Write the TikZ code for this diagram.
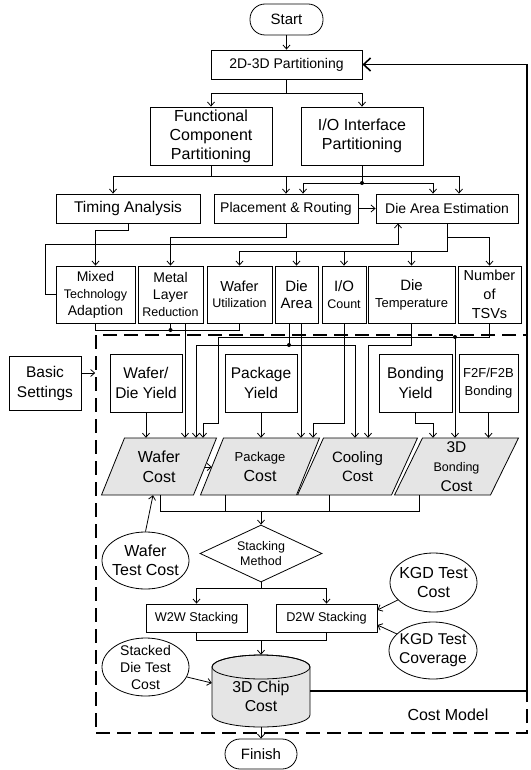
\documentclass[tikz,border=0pt]{standalone}
\usepackage{fontspec}
\setmainfont{Liberation Sans}
\usetikzlibrary{arrows.meta,shapes.geometric,calc}
\definecolor{cgray}{RGB}{229,229,229}
\newcommand{\fsz}[2]{\fontsize{#1}{#2}\selectfont}
\begin{document}
\begin{tikzpicture}[x=1pt,y=-1pt,
  font=\fsz{14}{17},
  every node/.style={inner sep=0pt, align=center},
  ln/.style={line width=0.8pt},
  arr/.style={line width=0.8pt, -{Straight Barb[length=4pt,width=7pt]}},
  fb/.style={line width=1.6pt, -{Straight Barb[length=7pt,width=13pt]}},
  box/.style={draw, line width=0.8pt, rectangle},
  term/.style={draw, line width=0.8pt, rectangle, rounded corners=15pt, font=\fsz{15}{18}},
  ell/.style={draw, line width=0.8pt, ellipse, inner sep=-14pt},
  ptxt/.style={rectangle, minimum height=57},
  para/.style={fill=cgray, draw, line width=0.8pt},
  dashbox/.style={draw, line width=1.6pt, dash pattern=on 14pt off 7pt, rectangle}]
\useasboundingbox (0,0) rectangle (530,770);

% cost model frame
\node[dashbox, minimum width=431, minimum height=398] (cm) at (311.5,534) {};

% top flow
\node[term, minimum width=73, minimum height=31] (start) at (286.5,19.5) {Start};
\node[box, minimum width=151, minimum height=29, font=\fsz{14}{17}] (part) at (286.5,64.5) {2D-3D Partitioning};
\node[box, minimum width=122, minimum height=58, font=\fsz{16}{19}] (func) at (211,136) {Functional\\Component\\Partitioning};
\node[box, minimum width=122, minimum height=58, font=\fsz{16}{19}] (io) at (362,136) {I/O Interface\\Partitioning};
\node[box, minimum width=144, minimum height=29, font=\fsz{15.5}{18}] (timing) at (128,208.5) {Timing Analysis};
\node[box, minimum width=144, minimum height=29, font=\fsz{14}{17}] (place) at (286,208.5) {Placement \& Routing};
\node[box, minimum width=142, minimum height=29, font=\fsz{14}{17}] (dae) at (447,208.5) {Die Area Estimation};

% factor row
\node[box, minimum width=79, minimum height=57] (mixed) at (95.5,294.5) {Mixed\\{\fsz{12.5}{15}Technology}\\Adaption};
\node[box, minimum width=65, minimum height=57] (metal) at (170.5,294.5) {Metal\\Layer\\{\fsz{12.5}{15}Reduction}};
\node[box, minimum width=65, minimum height=57, font=\fsz{14.5}{16.5}] (wu) at (239.5,294.5) {Wafer\\{\fsz{12.5}{15}Utilization}};
\node[box, minimum width=43, minimum height=57, font=\fsz{15}{17}] (diearea) at (296.5,294.5) {Die\\Area};
\node[box, minimum width=44, minimum height=57, font=\fsz{15}{17}] (iocount) at (344,294.5) {I/O\\{\fsz{12.5}{15}Count}};
\node[box, minimum width=87, minimum height=57, font=\fsz{15}{17}] (dietemp) at (411.5,294.5) {Die\\{\fsz{13}{15}Temperature}};
\node[box, minimum width=63, minimum height=57, font=\fsz{14.5}{19}] (tsv) at (489.5,294.5) {Number\\of\\TSVs};

% second row
\node[box, minimum width=72, minimum height=54, font=\fsz{15.5}{20}] (basic) at (45,383) {Basic\\Settings};
\node[box, minimum width=72, minimum height=58, font=\fsz{15.5}{20}] (wdy) at (146,383) {Wafer/\\Die Yield};
\node[box, minimum width=72, minimum height=58, font=\fsz{15.5}{20}] (pkgy) at (261,383) {Package\\Yield};
\node[box, minimum width=73, minimum height=58, font=\fsz{15.5}{20}] (bondy) at (415.5,383) {Bonding\\Yield};
\node[box, minimum width=59, minimum height=58, font=\fsz{13}{18}] (f2f) at (488.5,383) {F2F/F2B\\Bonding};

% cost parallelograms
\path[para] (124.5,438) -- (216.5,438) -- (193.5,495) -- (101.5,495) -- cycle;
\path[para] (223.5,438) -- (319.5,438) -- (296.5,495) -- (200.5,495) -- cycle;
\path[para] (323.5,438) -- (417.5,438) -- (391.5,495) -- (297.5,495) -- cycle;
\path[para] (422.5,438) -- (518.5,438) -- (490.5,495) -- (394.5,495) -- cycle;
\node[ptxt, minimum width=92, font=\fsz{16}{20}] (wc) at (159,466.5) {Wafer\\Cost};
\node[ptxt, minimum width=96, font=\fsz{16}{20}] (pc) at (260,466.5) {{\fsz{13}{15}Package}\\Cost};
\node[ptxt, minimum width=94, font=\fsz{15}{18.5}] (ccn) at (357.5,466.5) {Cooling\\Cost};
\node[ptxt, minimum width=96, font=\fsz{15.5}{19.5}] (bc) at (456.5,466.5) {3D\\{\fsz{12.5}{15}Bonding}\\Cost};

% lower flow
\node[draw, line width=0.8pt, diamond, aspect=2.14, minimum width=122, minimum height=57, font=\fsz{12.5}{15}] (sm) at (261,553.5) {Stacking\\Method};
\node[ell, minimum width=87, minimum height=57, font=\fsz{16}{19}] (wtc) at (145.5,560.5) {Wafer\\Test Cost};
\node[box, minimum width=101, minimum height=28, font=\fsz{12.7}{15}] (w2w) at (196.5,618) {W2W Stacking};
\node[box, minimum width=101, minimum height=28, font=\fsz{12.7}{15}] (d2w) at (326.5,618) {D2W Stacking};
\node[ell, minimum width=87, minimum height=59, font=\fsz{16}{19}] (kgdc) at (433.5,582.5) {KGD Test\\Cost};
\node[ell, minimum width=88, minimum height=57, font=\fsz{15.6}{19}] (kgdv) at (433,650.5) {KGD Test\\Coverage};
\node[ell, minimum width=87, minimum height=58, font=\fsz{14}{17}] (sdtc) at (145.5,667) {Stacked\\Die Test\\Cost};

% 3D chip cost cylinder
\filldraw[fill=cgray, ln] (212,667) -- (212,715) arc[start angle=180, end angle=0, x radius=49, y radius=12] -- (310,667) arc[start angle=0, end angle=-180, x radius=49, y radius=12] -- cycle;
\draw[ln] (261,667) ellipse[x radius=49, y radius=12];
\node[rectangle, minimum width=98, minimum height=72] (chip) at (261,691) {};
\node[font=\fsz{15.8}{19}] (chiptxt) at (261,696.5) {3D Chip\\Cost};

\node[term, minimum width=72, minimum height=30] (finish) at (261,754) {Finish};
\node[font=\fsz{16}{19}] (cml) at (448,715) {Cost Model};

% ---- connectors: top
\draw[arr] (start) -- (part);
\draw[arr] (part.south) -- (286.5,93) -| (func.north);
\draw[arr] (part.south) -- (286.5,93) -| (io.north);
\draw[arr] (func.south) -- (211,176) -| (113,0 |- timing.north);
\draw[arr] (211,176) -| (place.north);
\draw[arr] (211,176) -| (459,0 |- dae.north);
\draw[arr] (io.south) -- (362,183) -| (303,0 |- place.north);
\draw[arr] (362,183) -| (433,0 |- dae.north);
\fill (362,183) circle (2);
\draw[arr] (place) -- (dae);
\draw[arr] (timing.south) -- (128,230) -| (mixed.north);
\draw[arr] (place.south) -- (286,237) -| (metal.north);
\draw[arr] (mixed.west) -- (45,294.5) |- (398,244) -- (398,0 |- dae.south);
\draw[arr] (dae.south) -- (447,251) -| (wu.north);
\draw[arr] (447,251) -| (diearea.north);
\draw[arr] (447,251) -| (iocount.north);
\draw[arr] (447,251) -| (dietemp.north);
\draw[arr] (447,237) -| (tsv.north);

% ---- connectors: factors to costs
\draw[ln] (mixed.south) -- (95.5,330) -| (wu.south);
\draw[ln] (metal.south) -- (170.5,330);
\fill (170.5,330) circle (2);
\draw[arr] (185,0 |- metal.south) -- (185,0 |- wc.north);
\draw[arr] (wdy.south) -- (wdy.south |- wc.north);
\draw[arr] (289,0 |- diearea.south) -- (289,345) -| (196,0 |- wc.north);
\draw[arr] (289,345) -| (355,0 |- ccn.north);
\fill (289,345) circle (2);
\draw[arr] (tsv.south) -- (489.5,337) -- (218,337) -- (218,423) -| (203,0 |- wc.north);
\draw[arr] (455,337) -- (455,0 |- bc.north);
\fill (455,337) circle (2);
\draw[arr] (pkgy.south) -- (pkgy.south |- pc.north);
\draw[arr] (301,0 |- diearea.south) -- (301,0 |- pc.north);
\draw[arr] (iocount.south) -- (344,423) -| (313,0 |- pc.north);
\draw[arr] (dietemp.south) -- (411.5,345) -| (368,0 |- ccn.north);
\draw[arr] (bondy.south) -- (415.5,423) -| (433,0 |- bc.north);
\draw[arr] (f2f.south) -- (f2f.south |- bc.north);
\draw[arr] (204.8,467) -- (211.8,467);
\draw[arr] (basic.east |- 0,373) -- (cm.west |- 0,373);

% ---- connectors: lower
\draw[ln] (160,0 |- wc.south) -- (160,511) -- (419,511) -- (419,0 |- bc.south);
\draw[ln] (225,0 |- pc.south) -- (225,511);
\draw[ln] (329,0 |- ccn.south) -- (329,511);
\draw[arr] (261,511) -- (sm.north);
\draw[arr] (wtc.north) -- (153,0 |- wc.south);
\draw[arr] (sm.south) -- (261,588) -| (w2w.north);
\draw[arr] (261,588) -| (d2w.north);
\draw[arr] (kgdc) -- (d2w.east |- 0,610);
\draw[arr] (kgdv) -- (d2w.east |- 0,625);
\draw[ln] (w2w.south) -- (196.5,640) -- (326.5,640) -- (d2w.south);
\draw[arr] (261,640) -- (chip.north);
\draw[arr] (sdtc) -- (chip.west |- 0,683);
\draw[arr] (chip.south) -- (finish.north);
\draw[fb] (chip.east) -- (527,691) -- (527,64.5) -- (part.east);
\end{tikzpicture}
\end{document}
